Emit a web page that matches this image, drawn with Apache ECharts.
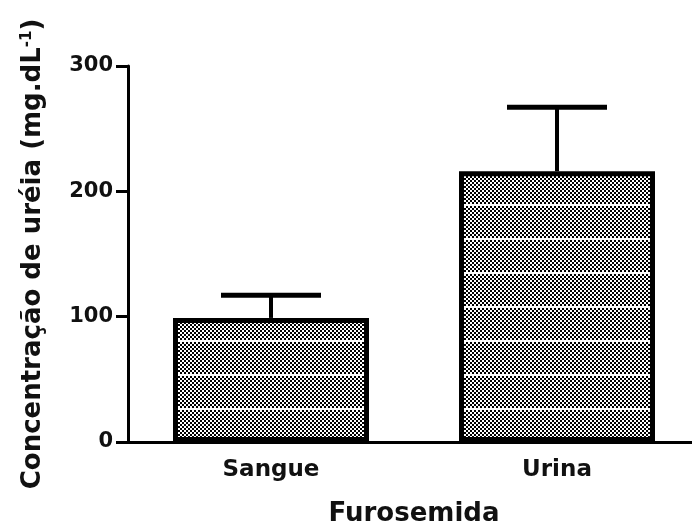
<!DOCTYPE html>
<html>
<head>
<meta charset="utf-8">
<script src="https://cdn.jsdelivr.net/npm/echarts@6/dist/echarts.min.js"></script>
<style>
  html, body { margin: 0; padding: 0; background: #fff; }
  #chart { width: 692px; height: 526px; }
</style>
</head>
<body>
<div id="chart"></div>
<script>
// dados
const categories = ['Sangue', 'Urina'];
const means = [99, 216];
const errors = [18, 51];
const yTicks = { min: 0, max: 300, interval: 100 };

// textura quadriculada das barras
function makePattern() {
  const c = document.createElement('canvas');
  c.width = 4;
  c.height = 34;
  const ctx = c.getContext('2d');
  ctx.fillStyle = '#fff';
  ctx.fillRect(0, 0, 4, 34);
  ctx.fillStyle = '#000';
  for (let y = 2; y < 34; y += 2) {
    for (let x = 0; x < 4; x += 2) {
      if (((x + y) / 2) % 2 === 0) ctx.fillRect(x, y, 2, 2);
    }
  }
  return c;
}

const font = 'DejaVu Sans';
const textColor = '#111';

let chart = echarts.init(document.getElementById('chart'));
chart.setOption({
  animation: false,
  backgroundColor: '#fff',
  grid: { left: 128, width: 572, top: 66, bottom: 84, outerBoundsMode: 'none' },
  xAxis: {
    type: 'category',
    data: categories,
    name: 'Furosemida',
    nameLocation: 'middle',
    nameGap: 59,
    nameTextStyle: { fontFamily: font, fontWeight: 'bold', fontSize: 26, color: textColor },
    axisLine: { lineStyle: { color: '#000', width: 3 } },
    axisTick: { alignWithLabel: true, length: 10, lineStyle: { color: '#000', width: 3 } },
    axisLabel: { fontFamily: font, fontWeight: 'bold', fontSize: 23, color: textColor, margin: 17 }
  },
  yAxis: {
    type: 'value',
    min: yTicks.min,
    max: yTicks.max,
    interval: yTicks.interval,
    name: 'Concentração de uréia (mg.dL{sup|-1})',
    nameLocation: 'middle',
    nameRotate: 90,
    nameGap: 81,
    nameTextStyle: {
      fontFamily: font, fontWeight: 'bold', fontSize: 26, color: textColor,
      rich: {
        sup: { fontFamily: font, fontWeight: 'bold', fontSize: 15, color: textColor, verticalAlign: 'top', padding: [0, 0, 12, 0] }
      }
    },
    splitLine: { show: false },
    axisLine: { show: true, lineStyle: { color: '#000', width: 3 } },
    axisTick: { show: true, length: 12, lineStyle: { color: '#000', width: 3 } },
    axisLabel: { fontFamily: font, fontWeight: 'bold', fontSize: 21, color: textColor, margin: 15 }
  },
  series: [
    {
      type: 'custom',
      z: 1,
      data: categories.map((c, i) => [i, means[i], errors[i]]),
      renderItem: function (params, api) {
        let base = api.coord([api.value(0), api.value(1)]);
        let top = api.coord([api.value(0), api.value(1) + api.value(2)]);
        return {
          type: 'group',
          children: [
            { type: 'line', shape: { x1: base[0], y1: base[1], x2: top[0], y2: top[1] },
              style: { stroke: '#000', lineWidth: 4 } },
            { type: 'line', shape: { x1: top[0] - 50, y1: top[1], x2: top[0] + 50, y2: top[1] },
              style: { stroke: '#000', lineWidth: 5 } }
          ]
        };
      }
    },
    {
      type: 'bar',
      z: 2,
      data: means,
      barWidth: 196,
      itemStyle: {
        color: { image: makePattern(), repeat: 'repeat' },
        borderColor: '#000',
        borderWidth: 5
      }
    }
  ]
});
</script>
</body>
</html>
